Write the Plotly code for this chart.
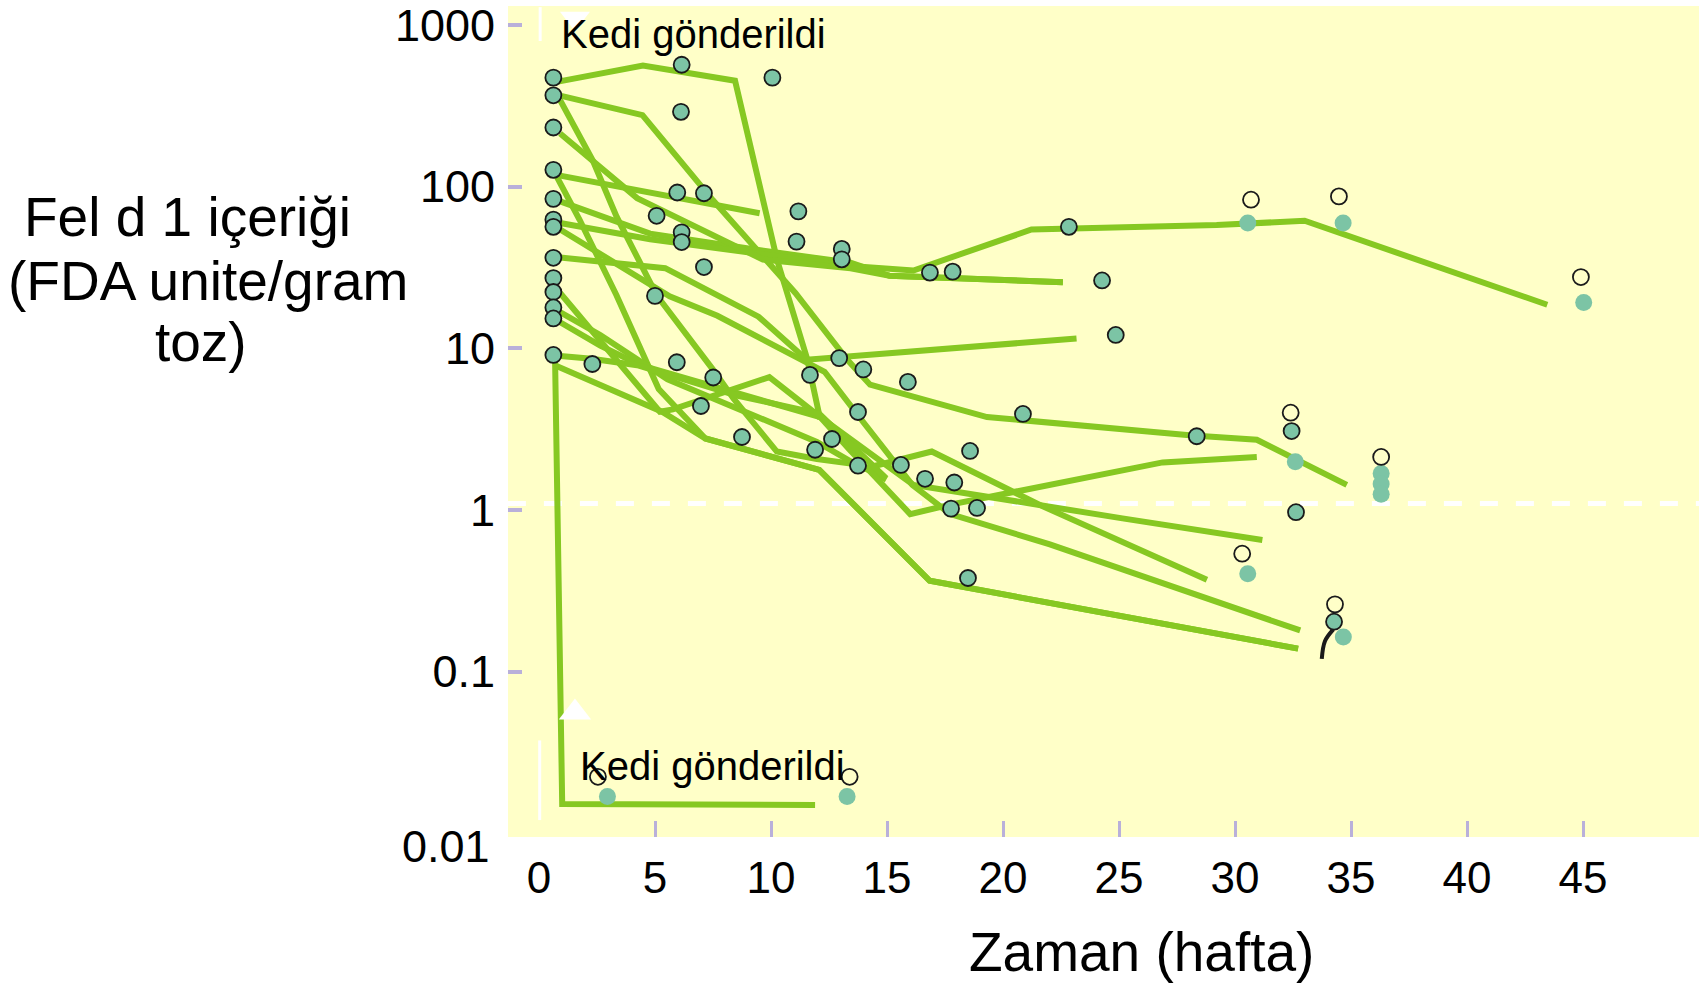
import plotly.graph_objects as go

# ---------------- data (weeks, Fel d 1 in FDA units / g dust) ----------------
s01_wk = [0.82, 4.48, 8.45, 10.26, 11.56, 12.12]
s01_val = [446, 560, 452, 35.3, 8.6, 3.65]
s02_wk = [0.91, 4.46, 7.50, 11.05, 13.29, 14.27, 19.31, 28.04, 30.94, 34.82]
s02_val = [365, 277, 82.3, 22.0, 8.49, 5.96, 3.76, 2.90, 2.72, 1.43]
s03_wk = [0.91, 2.32, 3.34, 5.07, 7.50, 8.39, 10.25, 11.98, 13.76, 14.97]
s03_val = [343, 145, 65.4, 21.3, 7.39, 4.88, 2.30, 2.07, 1.91, 1.54]
s04_wk = [0.77, 1.75, 3.34, 5.16, 7.17, 12.08, 16.84, 32.72]
s04_val = [115, 62.4, 21.3, 5.60, 2.77, 1.77, 0.365, 0.139]
s05_wk = [0.91, 4.79, 9.51]
s05_val = [117, 91.6, 68.4]
s06_wk = [0.91, 4.79, 9.46, 13.43, 15.11, 22.58]
s06_val = [81.1, 51.2, 40.6, 33.8, 28.1, 25.6]
s07_wk = [0.91, 4.79, 13.43, 16.14, 21.23, 29.21, 33.0, 43.46]
s07_val = [59.6, 47.3, 32.3, 30.3, 54.3, 57.8, 61.5, 18.6]
s08_wk = [0.91, 4.23, 9.65, 13.43, 15.11, 22.58]
s08_val = [213, 84.9, 35.4, 31.3, 28.1, 25.6]
s09_wk = [0.91, 5.63, 7.69, 11.33, 12.31, 13.99, 16.09, 17.73, 22.02, 32.81]
s09_val = [54.3, 21.0, 15.9, 8.49, 7.16, 3.48, 1.43, 0.944, 0.614, 0.180]
s10_wk = [0.91, 5.44, 9.46, 11.54, 23.17]
s10_val = [36.5, 31.3, 15.7, 8.5, 11.5]
s11_wk = [0.68, 5.30, 7.17, 12.08, 16.84, 32.72]
s11_val = [7.86, 4.06, 2.77, 1.77, 0.365, 0.139]
s12_wk = [0.91, 2.64, 4.37, 6.94, 12.12, 16.14, 21.88, 25.15, 31.18]
s12_val = [14.5, 10.4, 7.86, 6.15, 3.76, 1.43, 1.05, 0.888, 0.653]
s13_wk = [0.91, 5.21, 5.77, 9.93, 12.12, 13.38, 16.0, 17.73, 26.88, 30.94]
s13_val = [22.0, 4.06, 4.19, 6.64, 3.76, 2.37, 0.944, 1.08, 1.97, 2.13]
s14_wk = [0.68, 2.64, 5.54, 9.23, 11.98, 13.99, 16.93, 21.74, 28.79]
s14_val = [17.5, 12.1, 6.44, 3.88, 2.64, 1.80, 2.30, 1.05, 0.370]
s15_wk = [0.68, 2.27, 4.23, 8.53, 12.08, 14.97]
s15_val = [9.02, 8.61, 7.86, 5.11, 3.94, 1.57]
s16_wk = [0.69, 1.0, 11.9]
s16_val = [9.1, 0.0152, 0.0150]

# measured samples (filled, outlined)
dot_wk = [0.62] * 13 + [6.15, 6.12, 10.06, 5.96, 7.11, 5.07, 6.15, 6.15, 7.11, 5.0,
                        11.18, 11.1, 13.05, 13.05, 2.3, 5.94, 7.51, 11.68, 12.94, 13.98,
                        15.9, 13.75, 12.63, 11.9, 13.75, 15.6, 16.64, 17.9, 18.58, 17.76,
                        18.88, 18.49, 6.98, 8.75, 16.85, 17.83, 22.84, 24.27, 24.86, 20.86,
                        28.35, 32.44, 32.63, 34.27]
dot_val = [472, 367, 232, 127, 84, 62.5, 56.4, 36.3, 27.2, 22.3, 17.9, 15.3, 9.1,
           567, 290, 472, 92, 91, 66, 52.2, 45.4, 31.8, 21.1,
           70.3, 45.7, 41.2, 35.5, 8.0, 8.2, 6.6, 6.85, 8.7, 7.4,
           6.2, 4.04, 2.75, 2.36, 1.88, 1.9, 1.56, 1.48, 2.32, 1.02,
           1.03, 0.38, 4.4, 2.83, 29.4, 29.8, 56.4, 26.3, 12.1, 3.93,
           2.86, 3.08, 0.97, 0.204]
# samples drawn without outline
plain_wk = [30.55, 34.66, 45.03, 32.6, 30.55, 34.67, 36.3, 36.3, 36.3, 2.95, 13.28]
plain_val = [59.6, 59.6, 19.2, 1.99, 0.404, 0.164, 1.68, 1.45, 1.25, 0.0169, 0.0169]
# open circles
open_wk = [34.48, 32.4, 44.91, 30.31, 13.39, 2.54, 36.3, 34.31, 30.69]
open_val = [87, 4.0, 27.6, 0.537, 0.0224, 0.0224, 2.13, 0.261, 83]

curve_wk = [33.74, 33.88, 34.24]
curve_val = [0.120, 0.155, 0.183]

ref_wk = [-1.34, 50.0]
ref_val = [1.097, 1.097]
bar_top_wk = [0.05, 0.05]
bar_top_val = [1288, 795]
bar_bot_wk = [0.03, 0.03]
bar_bot_val = [0.0376, 0.0121]
tri_down_wk, tri_down_val = [1.55], [1100]
tri_up_wk, tri_up_val = [1.55], [0.056]

x_ticks = [0, 5, 10, 15, 20, 25, 30, 35, 40, 45]
x_marks = [5, 10, 15, 20, 25, 30, 35, 40, 45]
y_ticks = [0.1, 1, 10, 100, 1000]
y_ticktext = ["0.1", "1", "10", "100", "1000"]

# ---------------- styles ----------------
GREEN = "#86C822"
TEAL = "#7CC4A5"
LILAC = "#B9B0DA"
BG = "#FFFFC8"
FONT = "Liberation Sans, Arial, sans-serif"

fig = go.Figure()

fig.add_trace(go.Scatter(x=ref_wk, y=ref_val, mode="lines",
                         line=dict(color="white", width=5, dash="18px,18px"),
                         hoverinfo="skip"))

series = [(s01_wk, s01_val), (s02_wk, s02_val), (s03_wk, s03_val), (s04_wk, s04_val),
          (s05_wk, s05_val), (s06_wk, s06_val), (s07_wk, s07_val), (s08_wk, s08_val),
          (s09_wk, s09_val), (s10_wk, s10_val), (s11_wk, s11_val), (s12_wk, s12_val),
          (s13_wk, s13_val), (s14_wk, s14_val), (s15_wk, s15_val), (s16_wk, s16_val)]
for wk, val in series:
    fig.add_trace(go.Scatter(x=wk, y=val, mode="lines",
                             line=dict(color=GREEN, width=6), hoverinfo="skip"))

fig.add_trace(go.Scatter(x=bar_top_wk, y=bar_top_val, mode="lines",
                         line=dict(color="white", width=3), hoverinfo="skip"))
fig.add_trace(go.Scatter(x=bar_bot_wk, y=bar_bot_val, mode="lines",
                         line=dict(color="white", width=3), hoverinfo="skip"))
fig.add_trace(go.Scatter(x=tri_down_wk, y=tri_down_val, mode="markers",
                         marker=dict(symbol="triangle-down", size=26, color="white"),
                         cliponaxis=False, hoverinfo="skip"))
fig.add_trace(go.Scatter(x=tri_up_wk, y=tri_up_val, mode="markers",
                         marker=dict(symbol="triangle-up", size=28, color="white"),
                         hoverinfo="skip"))

fig.add_trace(go.Scatter(x=curve_wk, y=curve_val, mode="lines",
                         line=dict(color="#1a1a1a", width=4, shape="spline"),
                         hoverinfo="skip"))
fig.add_trace(go.Scatter(x=plain_wk, y=plain_val, mode="markers",
                         marker=dict(symbol="circle", size=17, color=TEAL),
                         hoverinfo="skip"))
fig.add_trace(go.Scatter(x=open_wk, y=open_val, mode="markers",
                         marker=dict(symbol="circle-open", size=16, color="#1a1a1a",
                                     line=dict(width=1.8)),
                         hoverinfo="skip"))
fig.add_trace(go.Scatter(x=dot_wk, y=dot_val, mode="markers",
                         marker=dict(symbol="circle", size=16, color=TEAL,
                                     line=dict(color="#1a1a1a", width=1.8)),
                         hoverinfo="skip"))

# helper trace for the tick-mark axis
fig.add_trace(go.Scatter(x=[20], y=[1], xaxis="x2", mode="markers",
                         marker=dict(opacity=0), hoverinfo="skip"))

XR = [-1.336, 50.0]
YR = [-2.022, 3.117]

fig.update_layout(
    width=1699, height=986, autosize=False,
    margin=dict(l=508, r=0, t=2, b=149),
    plot_bgcolor=BG, paper_bgcolor="white",
    showlegend=False,
    font=dict(family=FONT, color="black"),
    xaxis=dict(range=XR, tickvals=x_ticks, ticktext=[str(v) for v in x_ticks],
               ticks="", showgrid=False, zeroline=False, showline=False,
               tickfont=dict(size=44, family=FONT, color="black"),
               ticklabelstandoff=11, ticklabeloverflow="allow"),
    xaxis2=dict(range=XR, overlaying="x", anchor="y", side="bottom",
                tickvals=x_marks, ticks="inside", ticklen=16, tickwidth=3,
                tickcolor=LILAC, showticklabels=False, showgrid=False,
                zeroline=False, showline=False),
    yaxis=dict(type="log", range=YR, tickvals=y_ticks, ticktext=y_ticktext,
               ticks="inside", ticklen=14, tickwidth=4, tickcolor=LILAC,
               showgrid=False, zeroline=False, showline=False,
               tickfont=dict(size=45, family=FONT, color="black"),
               ticklabelstandoff=12, ticklabeloverflow="allow"),
)

ann = [
    dict(text="Kedi gönderildi", x=6.68, y=2.945, xref="x", yref="y",
         font=dict(size=40), showarrow=False, xanchor="center", yanchor="middle"),
    dict(text="Kedi gönderildi", x=7.46, y=-1.585, xref="x", yref="y",
         font=dict(size=40), showarrow=False, xanchor="center", yanchor="middle"),
    dict(text="0.01", x=-0.0135, y=-0.012, xref="paper", yref="paper",
         font=dict(size=45), showarrow=False, xanchor="right", yanchor="middle"),
    dict(text="Fel d 1 içeriği", x=-0.2687, y=0.7461, xref="paper", yref="paper",
         font=dict(size=55), showarrow=False, xanchor="center", yanchor="middle"),
    dict(text="(FDA unite/gram", x=-0.2519, y=0.6695, xref="paper", yref="paper",
         font=dict(size=55), showarrow=False, xanchor="center", yanchor="middle"),
    dict(text="toz)", x=-0.2578, y=0.5952, xref="paper", yref="paper",
         font=dict(size=55), showarrow=False, xanchor="center", yanchor="middle"),
    dict(text="Zaman (hafta)", x=0.5323, y=-0.1389, xref="paper", yref="paper",
         font=dict(size=55), showarrow=False, xanchor="center", yanchor="middle"),
]
fig.update_layout(annotations=ann)

fig.write_html("out.html",
               config={"displayModeBar": False},
               post_script="document.body.style.margin='0';"
                           "document.body.style.overflow='hidden';")
